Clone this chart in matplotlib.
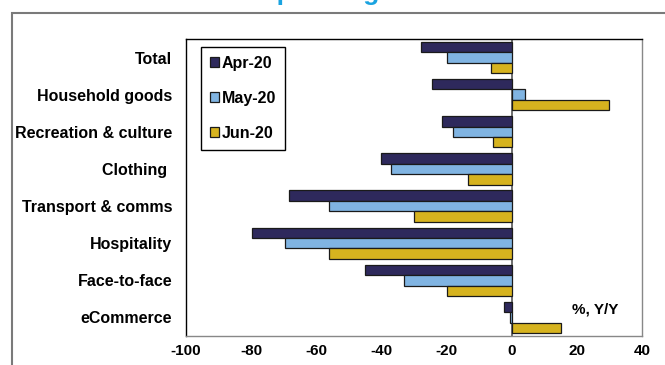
import numpy as np
import matplotlib.pyplot as plt
from matplotlib.patches import Rectangle

plt.rcParams['font.family'] = ['Liberation Sans', 'DejaVu Sans']
plt.rcParams['font.weight'] = 'bold'
plt.rcParams['axes.unicode_minus'] = False

categories = ["Total", "Household goods", "Recreation & culture", "Clothing ",
              "Transport & comms", "Hospitality", "Face-to-face", "eCommerce"]
months = ["Apr-20", "May-20", "Jun-20"]
apr = [-28, -24.5, -21.5, -40, -68.5, -79.8, -45, -2.5]
may = [-20, 4.2, -18, -37, -56, -69.6, -33, -0.5]
jun = [-6.5, 30, -5.8, -13.5, -30, -56, -20, 15]
colors = ["#2e295c", "#80b4e2", "#d6b31f"]

fig = plt.figure(figsize=(6.65, 3.65), dpi=100)
ax = fig.add_axes([186 / 665, 1 - 336 / 365, 456 / 665, 297 / 365])

# outer frame, cut by the figure edges
fig.patches.append(Rectangle((12 / 665, -0.1), 1.2, 1 - 13 / 365 + 0.1,
                             transform=fig.transFigure, fill=False,
                             edgecolor="#7a7a7a", lw=1.5))
fig.text(319 / 665, 1.0, "Spending", color="#1aa3e0", fontsize=19,
         fontweight="bold", ha="center", va="baseline")

y = np.arange(len(categories))
h = 0.28
for i, (vals, lab) in enumerate(zip([apr, may, jun], months)):
    ax.barh(y + (i - 1) * h, vals, height=h, color=colors[i],
            edgecolor="#1a1a1a", linewidth=0.9, label=lab)

ax.set_ylim(len(categories) - 0.5, -0.5)
ax.set_xlim(-100, 40)
ax.set_xticks(np.arange(-100, 41, 20))
ax.set_yticks(y)
ax.set_yticklabels(categories)
ax.tick_params(length=0, labelsize=11.5)
ax.tick_params(axis="y", pad=10)
ax.tick_params(axis="x", pad=6, labelsize=11)
ax.axvline(0, color="#555555", lw=1.2, zorder=0.5)
for s in ["left", "top"]:
    ax.spines[s].set_color("black")
for s in ["right", "bottom"]:
    ax.spines[s].set_color("#888888")
for s in ax.spines.values():
    s.set_linewidth(1.0)

leg = ax.legend(loc="upper left", bbox_to_anchor=(15 / 456, 289 / 297),
                borderaxespad=0, fontsize=11.5,
                handlelength=0.6, handleheight=0.6, handletextpad=0.15,
                labelspacing=1.25, borderpad=0.55, fancybox=False,
                framealpha=1, edgecolor="black")
leg.get_frame().set_linewidth(1.0)

ax.text((572 - 186) / 456, (336 - 309) / 297, "%, Y/Y", transform=ax.transAxes,
        fontsize=11, fontweight="bold", va="center")

fig.savefig("out.png", dpi=100)
